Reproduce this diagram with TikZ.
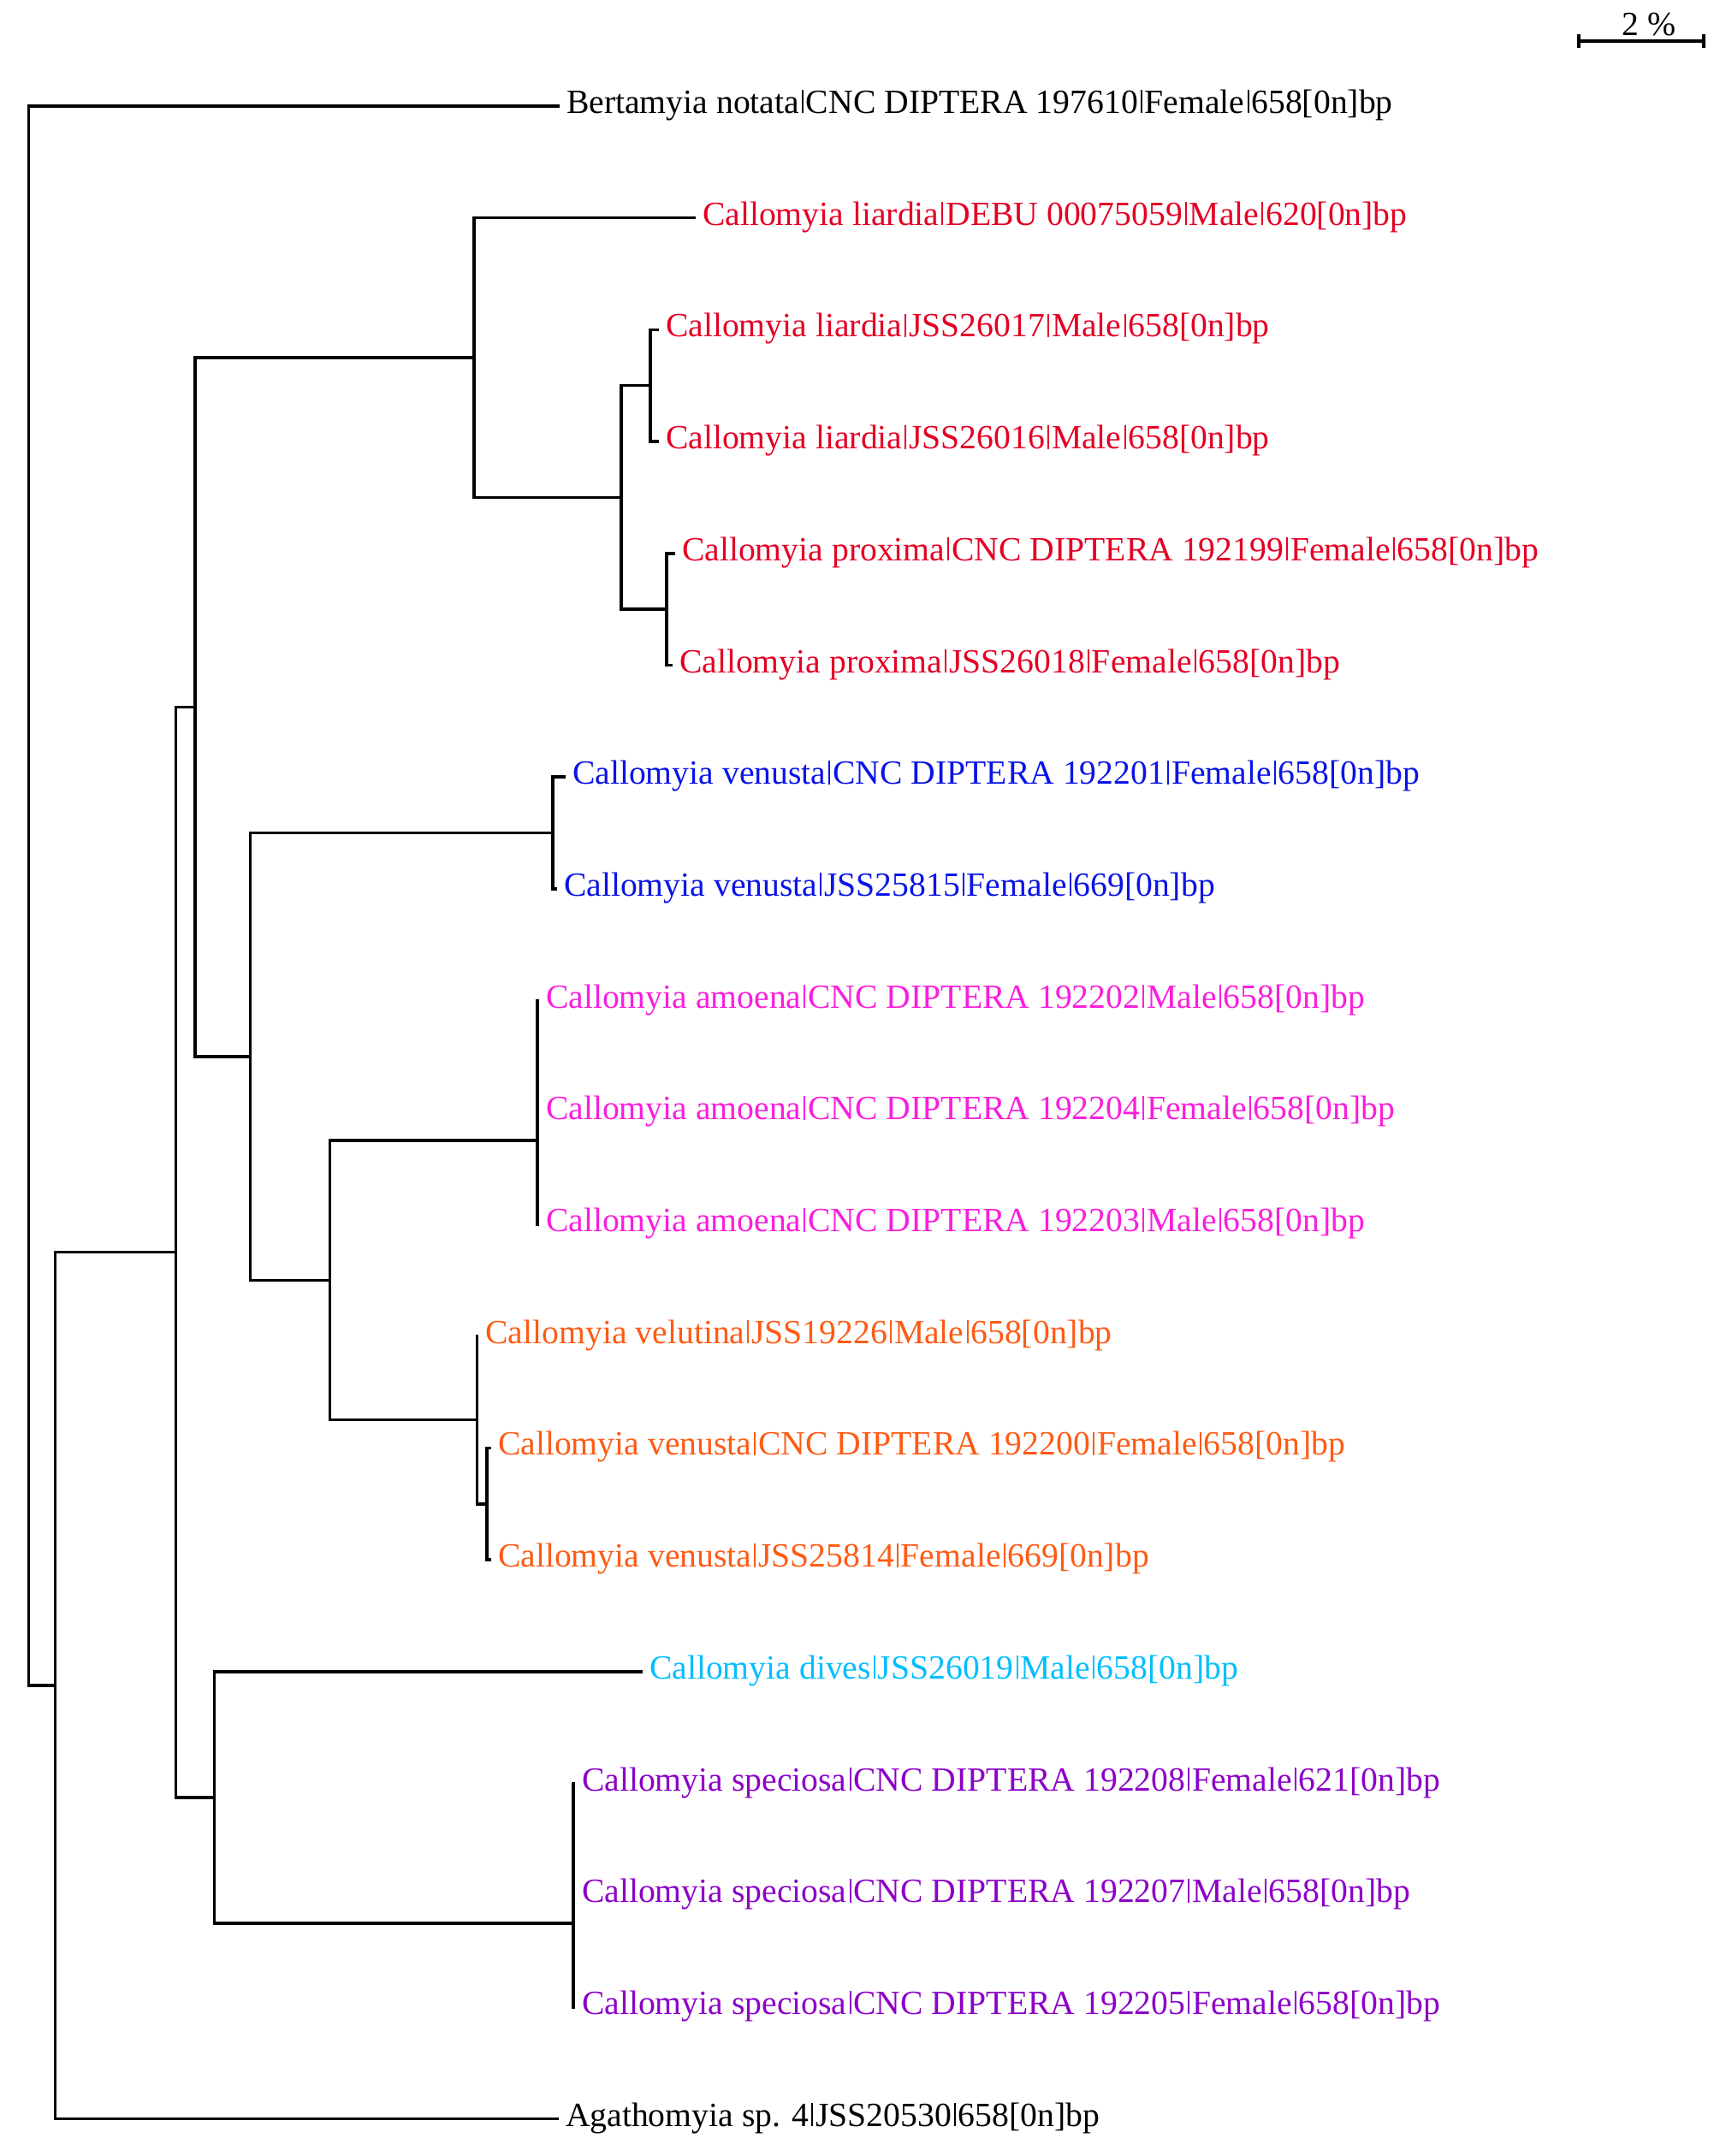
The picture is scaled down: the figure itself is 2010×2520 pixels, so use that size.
\documentclass[tikz,border=0pt]{standalone}
\usepackage{fontspec}
\setmainfont{Liberation Serif}
\definecolor{cred}{RGB}{228,0,36}
\definecolor{cblue}{RGB}{10,20,230}
\definecolor{cmag}{RGB}{250,30,220}
\definecolor{corange}{RGB}{255,90,20}
\definecolor{ccyan}{RGB}{0,190,255}
\definecolor{cpurple}{RGB}{140,0,200}
\newcommand\vb{\hspace{0.075em}\rule{0.05em}{0.69em}\hspace{0.075em}}
\begin{document}
\begin{tikzpicture}[x=0.3pt,y=-0.3pt,
  br/.style={line width=1.05pt,line cap=rect},
  leaf/.style={anchor=west,inner xsep=2.8pt,inner ysep=0pt,text height=0.70em,text depth=0.19em,font=\fontsize{11.9}{14}\selectfont},
  scl/.style={font=\fontsize{11.9}{14}\selectfont,inner sep=0pt,anchor=base}]
\useasboundingbox (0,0) rectangle (2010,2520);
% leaves
\node[leaf] (L1) at (652,124) {Bertamyia notata\vb CNC DIPTERA 197610\vb Female\vb 658[0n]bp};
\node[leaf,text=cred] (L2) at (811,254.7) {Callomyia liardia\vb DEBU 00075059\vb Male\vb 620[0n]bp};
\node[leaf,text=cred] (L3) at (768,385.4) {Callomyia liardia\vb JSS26017\vb Male\vb 658[0n]bp};
\node[leaf,text=cred] (L4) at (768,516.1) {Callomyia liardia\vb JSS26016\vb Male\vb 658[0n]bp};
\node[leaf,text=cred] (L5) at (787,646.8) {Callomyia proxima\vb CNC DIPTERA 192199\vb Female\vb 658[0n]bp};
\node[leaf,text=cred] (L6) at (784,777.5) {Callomyia proxima\vb JSS26018\vb Female\vb 658[0n]bp};
\node[leaf,text=cblue] (L7) at (659,908.2) {Callomyia venusta\vb CNC DIPTERA 192201\vb Female\vb 658[0n]bp};
\node[leaf,text=cblue] (L8) at (649,1038.9) {Callomyia venusta\vb JSS25815\vb Female\vb 669[0n]bp};
\node[leaf,text=cmag] (L9) at (628,1169.6) {Callomyia amoena\vb CNC DIPTERA 192202\vb Male\vb 658[0n]bp};
\node[leaf,text=cmag] (L10) at (628,1300.3) {Callomyia amoena\vb CNC DIPTERA 192204\vb Female\vb 658[0n]bp};
\node[leaf,text=cmag] (L11) at (628,1431) {Callomyia amoena\vb CNC DIPTERA 192203\vb Male\vb 658[0n]bp};
\node[leaf,text=corange] (L12) at (557.5,1561.7) {Callomyia velutina\vb JSS19226\vb Male\vb 658[0n]bp};
\node[leaf,text=corange] (L13) at (572,1692.4) {Callomyia venusta\vb CNC DIPTERA 192200\vb Female\vb 658[0n]bp};
\node[leaf,text=corange] (L14) at (572,1823.1) {Callomyia venusta\vb JSS25814\vb Female\vb 669[0n]bp};
\node[leaf,text=ccyan] (L15) at (749,1953.8) {Callomyia dives\vb JSS26019\vb Male\vb 658[0n]bp};
\node[leaf,text=cpurple] (L16) at (670,2084.5) {Callomyia speciosa\vb CNC DIPTERA 192208\vb Female\vb 621[0n]bp};
\node[leaf,text=cpurple] (L17) at (670,2215.2) {Callomyia speciosa\vb CNC DIPTERA 192207\vb Male\vb 658[0n]bp};
\node[leaf,text=cpurple] (L18) at (670,2345.9) {Callomyia speciosa\vb CNC DIPTERA 192205\vb Female\vb 658[0n]bp};
\node[leaf] (L19) at (651,2476.6) {Agathomyia sp. 4\vb JSS20530\vb 658[0n]bp};
% internal nodes
\coordinate (n473) at (760,450.75);
\coordinate (n485) at (779,712.15);
\coordinate (n452) at (726,581.45);
\coordinate (n345) at (554,418.1);
\coordinate (n402) at (646,973.55);
\coordinate (nam) at (628,1234.95);
\coordinate (n391) at (628,1333.0);
\coordinate (n354) at (569,1757.75);
\coordinate (n347) at (557.5,1659.7);
\coordinate (n240) at (385.6,1496.35);
\coordinate (n182) at (292.4,1234.95);
\coordinate (n142) at (228.2,826.5);
\coordinate (nsp) at (670,2149.85);
\coordinate (n417) at (670,2247.9);
\coordinate (n156) at (250.6,2100.85);
\coordinate (n128) at (205.7,1463.7);
\coordinate (n40) at (64.3,1970.15);
\coordinate (root) at (33.7,1047.1);
% branches (rectangular)
\draw[br] (L1.west) -| (root) |- (n40);
\draw[br] (n128) -| (n40) |- (L19.west);
\draw[br] (n142) -| (n128) |- (n156);
\draw[br] (n345) -| (n142) |- (n182);
\draw[br] (L2.west) -| (n345) |- (n452);
\draw[br] (n473) -| (n452) |- (n485);
\draw[br] (L3.west) -| (n473) |- (L4.west);
\draw[br] (L5.west) -| (n485) |- (L6.west);
\draw[br] (n402) -| (n182) |- (n240);
\draw[br] (L7.west) -| (n402) |- (L8.west);
\draw[br] (n391) -| (n240) |- (n347);
\draw[br] (L9.west) -| (nam) |- (L10.west);
\draw[br] (nam) -| (n391) |- (L11.west);
\draw[br] (L12.west) -| (n347) |- (n354);
\draw[br] (L13.west) -| (n354) |- (L14.west);
\draw[br] (L15.west) -| (n156) |- (n417);
\draw[br] (L16.west) -| (nsp) |- (L17.west);
\draw[br] (nsp) -| (n417) |- (L18.west);
% scale bar
\coordinate (sa) at (1845,48);
\coordinate (sb) at (1991,48);
\draw[br,line cap=butt] (sa) -- (sb);
\draw[br,line cap=butt] ([yshift=-8*0.3pt]sa) -- ([yshift=8*0.3pt]sa);
\draw[br,line cap=butt] ([yshift=-8*0.3pt]sb) -- ([yshift=8*0.3pt]sb);
\node[scl] (slab) at (1927,42) {2 \%};
\end{tikzpicture}
\end{document}
